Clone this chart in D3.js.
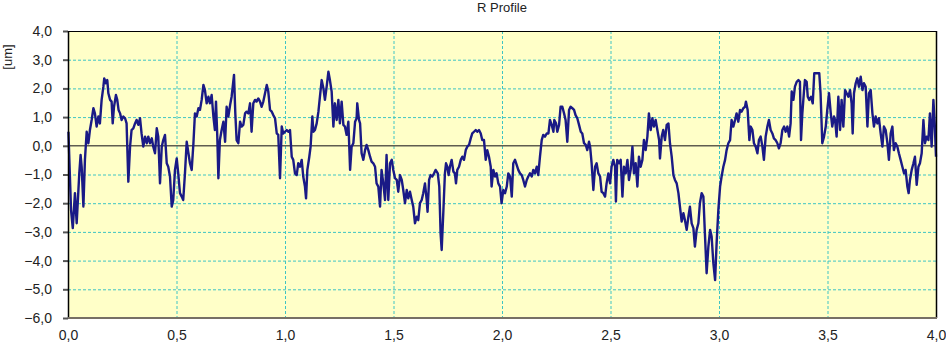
<!DOCTYPE html>
<html><head><meta charset="utf-8">
<script src="https://cdn.jsdelivr.net/npm/d3@7"></script>
<style>body{margin:0;background:#fff}svg{display:block;font-family:"Liberation Sans",Arial,sans-serif}</style>
</head><body><svg id="c" width="946" height="346"></svg>
<script>
const title = "R Profile";
const yLabel = "[um]";
const xTickValues = [0, 0.5, 1, 1.5, 2, 2.5, 3, 3.5, 4];
const yTickValues = [4, 3, 2, 1, 0, -1, -2, -3, -4, -5, -6];
const profileX = [
0.002,0.014,0.022,0.032,0.040,0.052,0.058,0.063,0.071,0.078,0.086,0.094,0.101,0.109,0.117,0.124,0.132,0.140,0.147,0.155,0.163,0.167,0.175,0.181,0.186,0.194,0.201,0.206,0.212,0.221,0.227,0.233,0.240,0.247,0.255,0.263,0.270,0.278,0.286,0.293,0.301,0.309,0.316,0.324,0.332,0.339,0.347,0.355,0.363,0.370,0.378,0.386,0.393,0.401,0.409,0.416,0.424,0.432,0.439,0.447,0.455,0.462,0.470,0.478,0.485,
0.493,0.501,0.508,0.516,0.524,0.531,0.539,0.547,0.555,0.562,0.570,0.578,0.585,0.593,0.601,0.608,0.616,0.624,0.631,0.639,0.647,0.654,0.662,0.670,0.677,0.682,0.688,0.693,0.700,0.708,0.716,0.724,0.731,0.739,0.747,0.754,0.765,0.771,0.777,0.785,0.793,0.800,0.808,0.816,0.823,0.831,0.839,0.846,0.854,0.862,0.869,0.877,0.885,0.892,0.900,0.908,0.916,0.923,0.931,0.939,0.946,0.954,0.962,0.969,0.977,0.985,0.992,1.000,
1.008,1.015,1.023,1.031,1.038,1.046,1.054,1.061,1.069,1.077,1.084,1.092,1.097,1.103,1.112,1.118,1.126,1.131,1.138,1.146,1.154,1.161,1.169,1.177,1.184,1.192,1.200,1.207,1.215,1.223,1.230,1.238,1.246,1.253,1.261,1.269,1.276,1.284,1.292,1.300,1.307,1.315,1.323,1.330,1.333,1.341,1.346,1.353,1.361,1.369,1.376,1.384,1.392,1.399,1.407,1.415,1.422,1.430,1.438,1.445,1.453,1.461,1.468,1.476,1.484,1.492,1.499,1.507,
1.515,1.522,1.530,1.538,1.545,1.553,1.561,1.568,1.576,1.584,1.591,1.599,1.607,1.614,1.622,1.630,1.637,1.645,1.653,1.657,1.664,1.671,1.679,1.687,1.694,1.704,1.711,1.717,1.722,1.730,1.737,1.742,1.748,1.754,1.760,1.768,1.776,1.783,1.788,1.794,1.802,1.810,1.817,1.825,1.833,1.840,1.848,1.856,1.863,1.871,1.879,1.886,1.894,1.902,1.909,1.917,1.925,1.932,1.940,1.948,1.952,1.960,1.968,1.975,1.983,1.991,1.998,2.006,2.014,
2.022,2.029,2.037,2.045,2.052,2.060,2.068,2.075,2.083,2.091,2.098,2.106,2.114,2.121,2.129,2.137,2.144,2.152,2.160,2.167,2.175,2.183,2.190,2.198,2.206,2.214,2.221,2.229,2.237,2.241,2.249,2.255,2.263,2.270,2.278,2.286,2.293,2.301,2.309,2.316,2.324,2.332,2.339,2.347,2.355,2.363,2.370,2.378,2.386,2.393,2.401,2.406,2.413,2.421,2.429,2.436,2.444,2.452,2.459,2.467,2.475,2.482,2.490,2.498,2.505,2.513,2.521,
2.525,2.531,2.539,2.547,2.555,2.562,2.570,2.578,2.585,2.593,2.601,2.608,2.616,2.624,2.631,2.639,2.647,2.654,2.662,2.670,2.677,2.685,2.693,2.700,2.708,2.716,2.724,2.728,2.736,2.743,2.751,2.759,2.767,2.774,2.782,2.790,2.797,2.805,2.813,2.820,2.828,2.836,2.843,2.851,2.859,2.866,2.874,2.882,2.889,2.897,2.905,2.912,2.920,2.928,2.935,2.943,2.951,2.959,2.966,2.974,2.982,2.989,2.997,3.005,3.012,3.020,3.028,
3.035,3.043,3.051,3.058,3.066,3.074,3.081,3.089,3.097,3.104,3.112,3.120,3.124,3.132,3.140,3.146,3.154,3.161,3.169,3.177,3.184,3.192,3.200,3.207,3.215,3.223,3.230,3.238,3.246,3.253,3.261,3.269,3.276,3.284,3.292,3.300,3.307,3.315,3.323,3.330,3.335,3.343,3.350,3.358,3.366,3.373,3.378,3.384,3.392,3.396,3.404,3.409,3.416,3.424,3.432,3.439,3.450,3.462,3.468,3.476,3.484,3.492,3.499,3.507,3.515,3.522,3.530,
3.535,3.542,3.550,3.558,3.565,3.573,3.581,3.588,3.596,3.604,3.611,3.616,3.622,3.630,3.637,3.645,3.653,3.661,3.668,3.676,3.684,3.691,3.699,3.707,3.714,3.722,3.730,3.737,3.745,3.753,3.760,3.768,3.776,3.783,3.791,3.799,3.806,3.814,3.822,3.829,3.837,3.845,3.853,3.860,3.868,3.874,3.880,3.888,3.896,3.903,3.911,3.919,3.926,3.934,3.942,3.949,3.957,3.965,3.972,3.980,3.988,3.994,4.000
];
const profileY = [
0.49,-2.24,-2.87,-1.65,-2.70,-0.96,-0.32,-0.73,-2.12,-0.49,0.49,0.09,0.55,0.90,1.31,1.13,0.67,1.02,0.78,1.60,2.06,2.35,2.18,2.29,1.83,1.60,1.54,0.78,1.36,1.77,1.60,1.25,1.13,0.90,1.02,0.96,0.78,-1.25,-0.03,0.55,0.61,0.78,0.90,0.73,0.96,0.43,-0.03,0.32,0.09,0.32,0.09,0.26,-0.03,-0.26,0.61,0.32,-1.31,-0.03,0.20,0.38,-0.61,-0.73,-1.07,-2.12,-1.89,
-0.84,-0.44,-0.96,-1.65,-1.77,-1.89,-0.96,0.14,-0.26,-0.61,-0.84,0.09,1.13,1.02,1.31,1.25,1.60,2.12,1.94,1.48,1.71,1.48,1.77,1.02,0.55,1.54,0.32,-1.13,0.20,0.55,0.84,0.14,1.36,1.02,1.42,1.71,2.47,1.13,0.20,0.09,0.84,0.67,0.73,1.13,1.19,1.13,1.48,0.49,1.48,1.60,1.54,1.65,1.54,1.36,1.54,1.83,2.12,1.89,1.25,1.19,1.07,0.96,0.43,0.38,-1.13,0.67,0.43,0.49,
0.55,0.49,0.55,-0.38,-0.49,-0.96,-1.02,-0.61,-0.73,-0.49,-1.07,-1.42,-1.83,-0.84,-0.38,-0.03,1.02,0.49,0.55,0.78,1.19,1.71,2.29,2.00,1.60,2.06,2.58,2.29,1.89,0.67,1.48,0.90,1.60,0.78,1.54,0.73,0.67,0.38,0.84,-0.84,-0.03,0.09,0.84,0.96,1.48,0.90,0.78,-0.26,-0.49,-0.15,0.03,-0.15,-0.38,-0.55,-0.61,-0.73,-1.31,-1.42,-2.12,-0.84,-1.31,-1.89,-0.32,-1.89,-0.61,-0.49,-0.84,-1.13,
-1.19,-1.60,-1.02,-1.19,-1.54,-2.00,-1.54,-1.83,-1.60,-1.89,-2.12,-2.70,-2.47,-2.59,-2.00,-1.89,-1.65,-1.31,-1.89,-2.30,-1.19,-1.02,-1.07,-0.96,-0.84,-0.96,-1.42,-3.05,-3.63,-2.24,-0.96,-0.61,-0.73,-1.02,-0.73,-0.49,-0.90,-0.96,-1.31,-0.84,-0.73,-0.49,-0.38,-0.49,-0.15,-0.03,0.03,0.26,0.43,0.49,0.55,0.49,0.55,0.43,0.20,0.20,-0.49,-0.15,-0.38,-0.73,-1.42,-0.84,-1.07,-0.96,-1.31,-1.42,-2.00,-1.54,-1.65,
-1.42,-0.96,-1.07,-1.77,-0.61,-0.49,-0.67,-0.84,-0.96,-1.02,-1.19,-1.42,-1.19,-1.07,-0.96,-1.07,-0.84,-0.96,-0.73,-1.02,-0.38,0.20,0.38,0.32,0.43,0.43,0.90,0.73,0.49,0.90,0.78,0.49,0.73,1.36,1.36,1.13,0.90,0.14,1.25,1.36,1.31,1.25,1.07,0.96,0.73,0.49,0.43,0.09,0.03,-0.15,0.14,-0.03,-0.61,-1.54,-0.73,-0.61,-0.96,-1.07,-1.60,-1.65,-1.77,-1.31,-0.96,-1.31,-0.73,-0.49,-0.73,
-1.94,-0.49,-0.61,-0.49,-1.77,-0.73,-0.96,-0.49,-1.19,-0.84,-0.03,-0.96,-0.61,-1.42,-0.38,-0.73,-0.49,0.20,-0.15,0.32,1.13,0.55,0.96,0.67,0.90,0.55,0.20,-0.44,0.32,0.55,0.20,0.73,0.78,0.09,-0.38,-1.02,-1.19,-1.31,-1.65,-2.12,-2.64,-2.35,-2.59,-2.93,-2.47,-2.12,-2.70,-2.87,-3.51,-2.93,-2.70,-2.00,-1.65,-1.77,-3.05,-4.44,-3.51,-2.93,-3.16,-4.09,-4.68,-3.40,-2.24,-1.42,-1.07,-0.73,-0.49,
-0.15,0.09,0.20,0.90,0.67,0.90,1.13,0.84,1.25,1.19,1.31,1.36,1.54,1.25,0.20,0.67,0.55,0.09,-0.03,-0.26,0.20,0.32,-0.03,-0.49,0.32,0.67,0.90,0.55,0.43,0.26,0.20,0.09,-0.09,0.09,0.55,0.67,0.49,0.67,0.32,0.78,1.89,1.60,2.06,2.23,2.29,2.23,0.20,1.13,1.94,2.29,2.23,1.71,1.60,1.71,1.48,2.53,2.53,2.53,1.83,0.09,0.32,0.67,1.25,1.83,1.13,0.67,1.02,
0.90,0.32,1.71,0.55,1.60,0.67,1.94,1.83,1.71,1.94,1.48,0.43,1.83,2.18,2.35,2.06,2.41,1.94,2.18,2.06,0.67,1.83,1.94,1.13,0.67,1.02,0.78,0.96,0.43,-0.03,0.67,0.55,0.09,-0.49,0.43,0.67,-0.15,0.09,-0.03,-0.26,-0.49,-0.73,-0.96,-0.84,-1.42,-1.65,-1.19,-0.84,-0.61,-0.38,-1.36,-0.73,-0.61,-0.26,0.90,0.09,0.32,0.20,1.13,-0.03,1.60,0.78,-0.38
];

const W = 946, H = 346;
const plot = {left: 68, right: 936, top: 31, bottom: 318};
const svg = d3.select("#c");
const loc = d3.formatLocale({decimal: ",", thousands: ".", grouping: [3], currency: ["", ""]});
const fmt = loc.format(".1f");

const x = d3.scaleLinear().domain([0, 4]).range([plot.left, plot.right]);
const y = d3.scaleLinear().domain([-6, 4]).range([plot.bottom, plot.top]);

svg.append("rect").attr("x", plot.left).attr("y", plot.top)
  .attr("width", plot.right - plot.left).attr("height", plot.bottom - plot.top)
  .attr("fill", "#FFFFC8");

const grid = svg.append("g");
grid.selectAll("line.h").data(yTickValues.filter(v => v !== 0 && v !== 4 && v !== -6)).join("line")
  .attr("x1", plot.left).attr("x2", plot.right)
  .attr("y1", d => y(d) + 0.5).attr("y2", d => y(d) + 0.5)
  .attr("stroke", "#3EC4C4").attr("stroke-width", 1).attr("stroke-dasharray", "3,2");
grid.selectAll("line.v").data(xTickValues.filter(v => v > 0 && v < 4)).join("line")
  .attr("x1", d => x(d) + 0.5).attr("x2", d => x(d) + 0.5)
  .attr("y1", plot.top).attr("y2", plot.bottom)
  .attr("stroke", "#3EC4C4").attr("stroke-width", 1).attr("stroke-dasharray", "3,2");

// zero line
svg.append("line").attr("x1", plot.left).attr("x2", plot.right)
  .attr("y1", y(0)).attr("y2", y(0))
  .attr("stroke", "#5f5d50").attr("stroke-width", 1.5);

// y axis ticks and labels
const yAxis = d3.axisLeft(y).tickValues(yTickValues).tickFormat(fmt).tickSize(5).tickPadding(11);
const gy = svg.append("g").attr("transform", `translate(${plot.left},0)`).call(yAxis);
gy.select(".domain").remove();
gy.selectAll(".tick line").attr("stroke", "#555").attr("stroke-width", 2);
gy.selectAll(".tick text").attr("fill", "#222").style("font-size", "14px").style("font-family", "'Liberation Sans',Arial,sans-serif");

// x axis labels
const xAxis = d3.axisBottom(x).tickValues(xTickValues).tickFormat(fmt).tickSize(0).tickPadding(12);
const gx = svg.append("g").attr("transform", `translate(0,${plot.bottom})`).call(xAxis);
gx.select(".domain").remove();
gx.selectAll(".tick text").attr("fill", "#222").style("font-size", "14px").style("font-family", "'Liberation Sans',Arial,sans-serif");

// profile line
const pts = profileX.map((v, i) => [v, profileY[i]]);
svg.append("path").datum(pts)
  .attr("fill", "none").attr("stroke", "#1a1a86").attr("stroke-width", 2.4).attr("stroke-linejoin", "round")
  .attr("d", d3.line().x(d => x(d[0])).y(d => y(d[1])));

// borders
svg.append("line").attr("x1", plot.left).attr("x2", plot.right).attr("y1", plot.top + 0.5).attr("y2", plot.top + 0.5).attr("stroke", "#000");
svg.append("line").attr("x1", plot.left + 0.5).attr("x2", plot.left + 0.5).attr("y1", plot.top).attr("y2", plot.bottom).attr("stroke", "#000").attr("stroke-width", 1.5);
svg.append("line").attr("x1", plot.right + 0.5).attr("x2", plot.right + 0.5).attr("y1", plot.top).attr("y2", plot.bottom).attr("stroke", "#000").attr("stroke-width", 1.5);
svg.append("line").attr("x1", plot.left).attr("x2", plot.right + 1).attr("y1", plot.bottom).attr("y2", plot.bottom).attr("stroke", "#777065").attr("stroke-width", 2);

// title and y label
svg.append("text").attr("x", (plot.left + plot.right) / 2).attr("y", 12).attr("text-anchor", "middle")
  .attr("fill", "#222").style("font-size", "13px").text(title);
svg.append("text").attr("transform", "translate(12,57) rotate(-90)").attr("text-anchor", "middle")
  .attr("fill", "#222").style("font-size", "13px").text(yLabel);
</script></body></html>
